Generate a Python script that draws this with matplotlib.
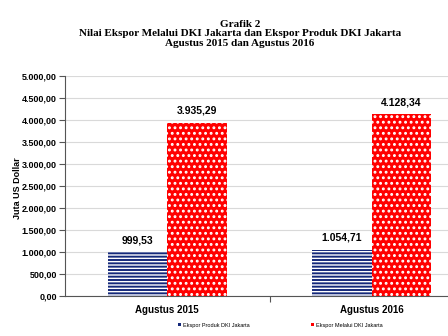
import numpy as np
import matplotlib
matplotlib.use("Agg")
import matplotlib.pyplot as plt
from matplotlib.ticker import FuncFormatter

# Data
periode = ["Agustus 2015", "Agustus 2016"]
ekspor_produk = [999.53, 1054.71]
ekspor_melalui = [3935.29, 4128.34]
label_produk = ["999,53", "1.054,71"]
label_melalui = ["3.935,29", "4.128,34"]

plt.rcParams["font.family"] = ["Liberation Sans", "DejaVu Sans"]
plt.rcParams["hatch.linewidth"] = 1.0

fig = plt.figure(figsize=(4.48, 3.36), dpi=100)
ax = fig.add_axes([65 / 448, 40 / 336, 409 / 448, 220 / 336])

x = np.arange(len(periode))
w = 0.29

b1 = ax.bar(x - w / 2, ekspor_produk, w, color="#14287a", edgecolor="white",
            hatch="-----", linewidth=0, label="Ekspor Produk DKI Jakarta", zorder=3)
b2 = ax.bar(x + w / 2, ekspor_melalui, w, color="#ff0000", edgecolor="white",
            hatch="...", linewidth=0, label="Ekspor Melalui DKI Jakarta", zorder=3)
for p in b2:
    try:
        p.set_hatch_linewidth(1.3)
    except AttributeError:
        pass

for i in range(len(x)):
    ax.annotate(label_produk[i], (x[i] - w / 2, ekspor_produk[i]), xytext=(0, 5),
                textcoords="offset points", ha="center", va="bottom",
                fontsize=7.5, fontweight="bold")
    ax.annotate(label_melalui[i], (x[i] + w / 2, ekspor_melalui[i]), xytext=(0, 5),
                textcoords="offset points", ha="center", va="bottom",
                fontsize=7.5, fontweight="bold")

ax.set_xlim(-0.5, 1.5)
ax.set_ylim(0, 5000)
ax.set_yticks(np.arange(0, 5001, 500))


def fmt(v, pos):
    s = f"{v:,.2f}"
    return s.replace(",", "X").replace(".", ",").replace("X", ".")


ax.yaxis.set_major_formatter(FuncFormatter(fmt))
ax.grid(axis="y", color="#d9d9d9", linewidth=0.8, zorder=0)
ax.set_xticks([0.5])
ax.set_xticklabels([""])
ax.tick_params(axis="x", length=4, color="#555555", direction="out")
ax.tick_params(axis="y", length=4, color="#555555", labelsize=6.5, pad=2)
for lab in ax.get_yticklabels():
    lab.set_fontweight("bold")

for i, p in enumerate(periode):
    ax.text(x[i], -0.04, p, transform=ax.get_xaxis_transform(), ha="center",
            va="top", fontsize=7, fontweight="bold")

for s in ["top", "right"]:
    ax.spines[s].set_visible(False)
ax.spines["left"].set_color("#555555")
ax.spines["bottom"].set_color("#555555")

fig.text(17 / 448, 1 - 188 / 336, "Juta US Dollar", rotation=90, ha="center",
         va="center", fontsize=6.5, fontweight="bold")

fig.text(240 / 448, 1 - 34 / 336,
         "Grafik 2\nNilai Ekspor Melalui DKI Jakarta dan Ekspor Produk DKI Jakarta\nAgustus 2015 dan Agustus 2016",
         ha="center", va="center", fontsize=8, fontweight="bold",
         family=["Liberation Serif", "DejaVu Serif"], linespacing=1.05)

leg = fig.legend(handles=[b1, b2], loc="center", bbox_to_anchor=(280 / 448, 1 - 325 / 336),
                 ncol=2, frameon=False, fontsize=4, handlelength=0.6, handleheight=0.6,
                 handletextpad=0.3, columnspacing=11)
for h, c in zip(leg.legend_handles, ["#14287a", "#ff0000"]):
    h.set_hatch(None)
    h.set_facecolor(c)

fig.savefig("out.png", dpi=100)
